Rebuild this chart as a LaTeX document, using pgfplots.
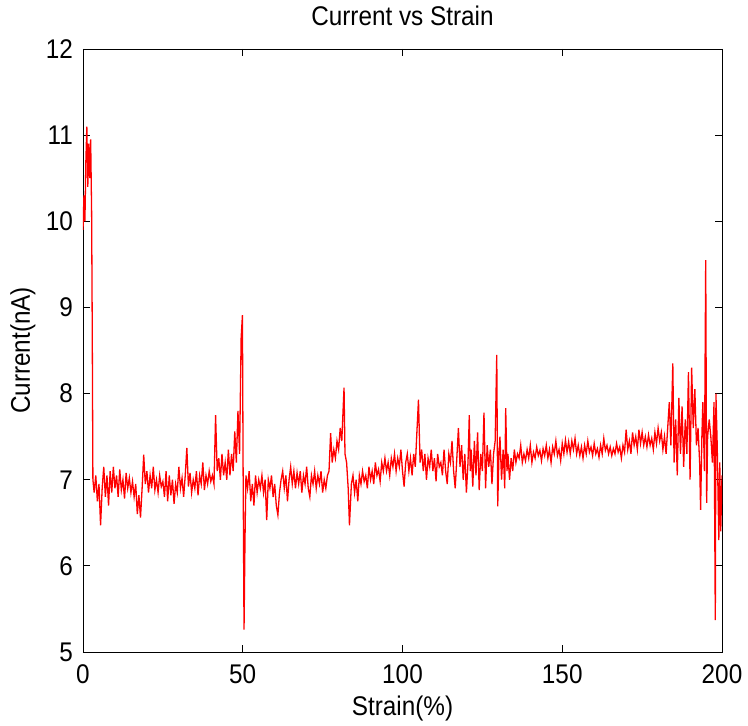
\documentclass[border=0pt]{standalone}
\usepackage{pgfplots}
\pgfplotsset{compat=1.18}
\usepackage{fontspec}
\setmainfont[FakeStretch=0.9]{Liberation Sans}
\begin{document}
\begin{tikzpicture}
\begin{axis}[
  scale only axis,
  width=639pt, height=603pt,
  xmin=0, xmax=200, ymin=5, ymax=12,
  xtick={0,50,100,150,200}, ytick={5,6,7,8,9,10,11,12},
  tick align=inside, xtick pos=both, ytick pos=both,
  major tick length=7pt,
  axis line style={line width=0.9pt},
  every tick/.style={black, line width=0.8pt},
  /pgf/number format/assume math mode=true,
  tick label style={font=\fontsize{27}{30}\selectfont},
  xticklabel style={anchor=base, inner sep=0pt, yshift=-31pt},
  yticklabel style={anchor=east, inner sep=0pt, xshift=-10pt},
  title={Current vs Strain},
  title style={font=\fontsize{27}{30}\selectfont, at={(0.5,1)}, anchor=base, yshift=17pt},
  xlabel={Strain(\%)},
  xlabel style={font=\fontsize{27}{30}\selectfont, at={(0.5,0)}, anchor=base, yshift=-63pt},
  ylabel={Current(nA)},
  ylabel style={font=\fontsize{27}{30}\selectfont, at={(axis description cs:-0.0939,0.5)}, anchor=center},
  clip=true,
]
\addplot[color=red, line width=1.3pt] coordinates {
(0,9.9)(0.3,10.3)(0.6,10.0)(0.9,10.7)(1.2,11.1)(1.5,10.4)(1.8,10.9)(2.1,10.5)(2.4,10.95)(2.7,10.1)(2.9,8.7)(3.1,7.0)
(3.5,6.85)(4.0,7.05)(4.5,6.75)(5.0,6.95)(5.5,6.47)(6.0,6.9)(6.5,7.15)(7.0,6.8)(7.5,7.05)(8.0,6.7)
(8.5,7.1)(9.0,6.85)(9.5,7.15)(10.0,6.9)(10.5,7.05)(11.0,6.8)(11.5,7.12)(12.0,6.88)(12.5,7.0)(13.0,6.78)
(13.5,7.08)(14.0,6.9)(14.5,7.02)(15.0,6.85)(15.5,6.98)(16.0,6.8)(16.5,6.95)(17.0,6.6)(17.5,6.82)(18.0,6.56)
(18.5,6.9)(19.0,7.29)(19.5,6.95)(20.0,7.1)(20.5,6.85)(21.0,7.05)(21.5,6.9)(22.0,7.15)(22.5,6.88)(23.0,7.0)
(23.5,6.85)(24.0,7.05)(24.5,6.92)(25.0,6.98)(25.5,6.8)(26.0,7.1)(26.5,6.75)(27.0,7.05)(27.5,6.82)(28.0,7.0)
(28.5,6.72)(29.0,6.95)(29.5,6.85)(30.0,7.15)(30.5,6.9)(31.0,7.02)(31.5,6.8)(32.0,7.05)(32.5,7.37)(33.0,6.92)
(33.5,7.08)(34.0,6.85)(34.5,7.0)(35.0,6.9)(35.5,7.1)(36.0,6.82)(36.5,7.05)(37.0,6.95)(37.5,7.2)(38.0,6.88)
(38.5,7.05)(39.0,6.95)(39.5,7.1)(40.0,6.98)(40.5,7.05)(41.0,6.95)(41.5,7.75)(42.0,7.1)(42.5,7.25)(43.0,7.0)
(43.5,7.3)(44.0,7.05)(44.5,7.2)(45.0,7.0)(45.5,7.35)(46.0,7.05)(46.5,7.3)(47.0,7.1)(47.5,7.56)(48.0,7.2)
(48.5,7.8)(49.0,7.3)(49.5,8.65)(49.9,8.91)(50.1,7.2)(50.4,5.26)(50.7,6.3)(51.0,7.05)(51.5,6.9)(52.0,7.1)
(52.5,6.75)(53.0,6.95)(53.5,6.7)(54.0,7.05)(54.5,6.85)(55.0,7.0)(55.5,6.9)(56.0,7.05)(56.5,6.85)(57.0,7.0)
(57.5,6.53)(58.0,7.0)(58.5,6.9)(59.0,7.05)(59.5,6.8)(60.0,6.95)(60.5,6.7)(61.0,6.59)(61.5,6.85)(62.0,7.0)
(62.5,7.1)(63.0,6.9)(63.5,7.05)(64.0,6.75)(64.5,7.0)(65.0,7.15)(65.5,6.95)(66.0,7.1)(66.5,6.9)(67.0,7.08)
(67.5,6.95)(68.0,7.1)(68.5,6.85)(69.0,7.05)(69.5,6.95)(70.0,7.15)(70.5,6.9)(71.0,6.8)(71.5,7.05)(72.0,6.95)
(72.5,7.1)(73.0,6.9)(73.5,7.05)(74.0,6.95)(74.5,7.1)(75.0,6.85)(75.5,7.0)(76.0,6.9)(76.5,7.05)(77.0,7.1)
(77.5,7.54)(78.0,7.2)(78.5,7.35)(79.0,7.25)(79.5,7.45)(80.0,7.35)(80.5,7.6)(81.0,7.45)(81.7,8.07)(82.0,7.3)
(82.5,7.2)(83.0,6.9)(83.4,6.47)(84.0,6.95)(84.5,7.05)(85.0,6.85)(85.5,7.0)(86.0,6.75)(86.5,7.05)(87.0,6.95)
(87.5,7.1)(88.0,6.98)(88.5,7.05)(89.0,6.9)(89.5,7.15)(90.0,7.0)(90.5,7.1)(91.0,6.95)(91.5,7.2)(92.0,7.05)
(92.5,7.12)(93.0,6.98)(93.5,7.2)(94.0,7.1)(94.5,7.25)(95.0,7.1)(95.5,7.2)(96.0,7.05)(96.5,7.25)(97.0,7.15)
(97.5,7.3)(98.0,7.1)(98.5,7.25)(99.0,7.15)(99.5,7.35)(100.0,7.1)(100.5,6.92)(101.0,7.2)(101.5,7.3)(102.0,7.1)
(102.5,7.25)(103.0,7.05)(103.5,7.3)(104.0,7.15)(104.5,7.55)(105.0,7.93)(105.5,7.2)(106.0,7.35)(106.5,7.1)(107.0,7.3)
(107.5,7.0)(108.0,7.25)(108.5,7.15)(109.0,7.35)(109.5,7.1)(110.0,7.25)(110.5,6.98)(111.0,7.3)(111.5,7.15)(112.0,7.2)
(112.5,7.05)(113.0,7.35)(113.5,7.1)(114.0,6.95)(114.5,7.3)(115.0,7.2)(115.5,7.45)(116.0,7.1)(116.5,6.9)(117.0,7.25)
(117.5,7.6)(118.0,7.15)(118.5,7.4)(119.0,7.0)(119.5,7.3)(120.0,6.85)(120.5,7.2)(120.9,7.75)(121.2,7.1)(121.5,7.35)
(122.0,6.92)(122.5,7.45)(123.0,7.05)(123.5,7.55)(124.0,6.88)(124.5,7.3)(125.0,7.1)(125.5,7.78)(126.0,6.9)(126.5,7.4)
(127.0,7.15)(127.5,7.35)(128.0,6.95)(128.5,7.3)(129.0,7.45)(129.5,8.45)(129.8,6.69)(130.2,7.3)(130.5,7.5)(131.0,7.0)
(131.5,7.35)(132.0,6.9)(132.3,7.83)(132.7,7.1)(133.0,7.3)(133.5,7.0)(134.0,7.25)(134.5,7.1)(135.0,7.35)(135.5,7.2)
(136.0,7.3)(136.5,7.25)(137.0,7.4)(137.5,7.2)(138.0,7.3)(138.5,7.22)(139.0,7.35)(139.5,7.25)(140.0,7.4)(140.5,7.2)
(141.0,7.32)(141.5,7.25)(142.0,7.38)(142.5,7.28)(143.0,7.34)(143.5,7.22)(144.0,7.36)(144.5,7.28)(145.0,7.4)(145.5,7.25)
(146.0,7.35)(146.5,7.2)(147.0,7.38)(147.5,7.3)(148.0,7.45)(148.5,7.28)(149.0,7.35)(149.5,7.22)(150.0,7.42)(150.5,7.3)
(151.0,7.46)(151.5,7.32)(152.0,7.44)(152.5,7.3)(153.0,7.45)(153.5,7.35)(154.0,7.48)(154.5,7.3)(155.0,7.4)(155.5,7.28)
(156.0,7.38)(156.5,7.25)(157.0,7.4)(157.5,7.3)(158.0,7.45)(158.5,7.32)(159.0,7.38)(159.5,7.28)(160.0,7.42)(160.5,7.3)
(161.0,7.36)(161.5,7.26)(162.0,7.4)(162.5,7.3)(163.0,7.48)(163.5,7.34)(164.0,7.4)(164.5,7.3)(165.0,7.38)(165.5,7.28)
(166.0,7.36)(166.5,7.3)(167.0,7.42)(167.5,7.32)(168.0,7.38)(168.5,7.25)(169.0,7.4)(169.5,7.32)(170.0,7.58)(170.5,7.35)
(171.0,7.45)(171.5,7.3)(172.0,7.55)(172.5,7.4)(173.0,7.5)(173.5,7.35)(174.0,7.58)(174.5,7.42)(175.0,7.55)(175.5,7.4)
(176.0,7.5)(176.5,7.38)(177.0,7.52)(177.5,7.4)(178.0,7.48)(178.5,7.35)(179.0,7.55)(179.5,7.42)(180.0,7.6)(180.5,7.45)
(181.0,7.55)(181.5,7.35)(182.0,7.5)(182.5,7.3)(183.0,7.6)(183.5,7.9)(184.0,7.4)(184.6,8.35)(185.0,7.2)(185.5,7.7)
(186.0,7.05)(186.5,7.95)(187.0,7.3)(187.5,7.85)(188.0,7.15)(188.5,7.7)(189.0,7.3)(189.5,8.25)(190.0,7.0)(190.5,8.3)
(191.0,7.6)(191.5,8.05)(192.0,7.4)(192.5,7.6)(193.0,7.2)(193.3,6.65)(193.7,7.5)(194.0,7.9)(194.5,7.1)(194.9,9.55)
(195.2,6.73)(195.5,7.5)(196.0,7.7)(196.5,7.5)(197.0,7.2)(197.5,7.9)(197.9,5.37)(198.1,8.0)(198.5,7.4)(199.0,6.3)
(199.3,7.2)(199.6,6.4)(200.0,7.05)
};
\end{axis}
\pgfresetboundingbox
\path ([shift={(-83pt,-73pt)}]current axis.south west) rectangle ([shift={(26pt,49pt)}]current axis.north east);
\end{tikzpicture}
\end{document}
